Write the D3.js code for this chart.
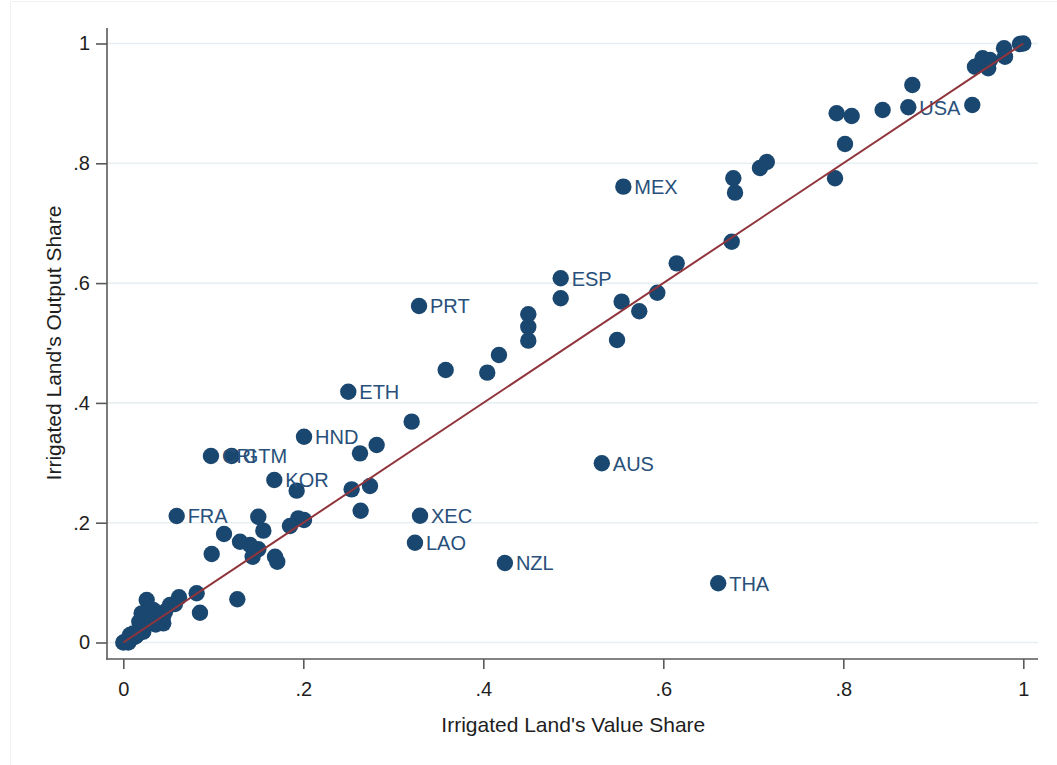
<!DOCTYPE html>
<html>
<head>
<meta charset="utf-8">
<script src="https://cdn.jsdelivr.net/npm/d3@7"></script>
<style>
  html, body { margin: 0; padding: 0; background: #fff; }
  svg { display: block; font-family: "Liberation Sans", Arial, sans-serif; }
</style>
</head>
<body>
<svg id="chart" width="1057" height="765"></svg>
<script>
// Irrigated land: value share (x) vs output share (y), one point per country.
// Points with a code in countryLabels carry a text label.
const valueShare = [
  0.5556, 0.486, 0.3286, 0.25, 0.2008, 0.5317, 0.661, 0.8722, 0.0593, 0.1678,
  0.0974, 0.1204, 0.3297, 0.3241, 0.424,
  0.7926, 0.8093, 0.8019, 0.7908, 0.8437, 0.8767, 0.9433, 0.9463, 0.9548, 0.963,
  0.961, 0.9786, 0.9797, 0.9963, 1.0,
  0.6778, 0.6797, 0.676, 0.6149, 0.5933, 0.5537, 0.5733, 0.486, 0.45, 0.7074,
  0.715, 0.5486, 0.45, 0.45, 0.4174, 0.4044, 0.3582, 0.3204, 0.2815, 0.263,
  0.2741, 0.2537, 0.2637, 0.1926, 0.1944, 0.2008, 0.1852, 0.15, 0.1556, 0.1119,
  0.1297, 0.1408, 0.15, 0.1437, 0.1686, 0.1711, 0.0982, 0.1267, 0.0815, 0.0852,
  0.0619, 0.0574, 0.026, 0.0463, 0.0444, 0.023, 0.0204, 0.0222, 0.013, 0.0,
  0.0056, 0.0204, 0.0178, 0.0074, 0.0444, 0.0519, 0.011, 0.0333, 0.0407, 0.003,
  0.008, 0.015, 0.03, 0.036
];
const outputShare = [
  0.761, 0.608, 0.5618, 0.4187, 0.3436, 0.2992, 0.0988, 0.8935, 0.2112, 0.2713,
  0.3113, 0.3113, 0.2117, 0.1666, 0.1327,
  0.8835, 0.879, 0.8322, 0.775, 0.889, 0.9307, 0.8973, 0.9613, 0.9753, 0.9724,
  0.9586, 0.992, 0.978, 0.9992, 1.0,
  0.775, 0.751, 0.6691, 0.633, 0.584, 0.569, 0.553, 0.5746, 0.548, 0.7921,
  0.8022, 0.505, 0.527, 0.5039, 0.48, 0.4505, 0.455, 0.3687, 0.3297, 0.3158,
  0.2613, 0.2557, 0.22, 0.2535, 0.2073, 0.2045, 0.1945, 0.21, 0.1867, 0.1811,
  0.1683, 0.1628, 0.1556, 0.1432, 0.1432, 0.1349, 0.1477, 0.0721, 0.0821, 0.0497,
  0.0755, 0.0643, 0.071, 0.0514, 0.032, 0.046, 0.032, 0.018, 0.0097, 0.0,
  0.0, 0.0487, 0.0347, 0.0125, 0.0442, 0.0626, 0.015, 0.0543, 0.0376, 0.002,
  0.006, 0.012, 0.04, 0.03
];
const countryLabels = [
  "MEX", "ESP", "PRT", "ETH", "HND", "AUS", "THA", "USA", "FRA", "KOR",
  "CRI", "GTM", "XEC", "LAO", "NZL"
];
const xTickValues = [0, 0.2, 0.4, 0.6, 0.8, 1];
const yTickValues = [0, 0.2, 0.4, 0.6, 0.8, 1];
const tickText = v => v === 0 ? "0" : v === 1 ? "1" : String(v).replace(/^0/, "");
const xTitle = "Irrigated Land's Value Share";
const yTitle = "Irrigated Land's Output Share";

const points = valueShare.map((v, i) => ({
  x: v, y: outputShare[i], label: countryLabels[i] || ""
}));

const svg = d3.select("#chart");
const navy = "#1a476f";

// plot region
const frame = { left: 107, right: 1038, top: 28, bottom: 659 };
const x = d3.scaleLinear().domain([0, 1]).range([123.3, 1023.3]);
const y = d3.scaleLinear().domain([0, 1]).range([642.5, 43.5]);

// faint outer graph border
svg.append("path")
  .attr("d", "M10.5,765 L10.5,1.5 L1057,1.5")
  .attr("fill", "none").attr("stroke", "#f1f1f1").attr("stroke-width", 1);

// horizontal grid lines
svg.append("g").selectAll("line").data(yTickValues).join("line")
  .attr("x1", frame.left).attr("x2", frame.right)
  .attr("y1", d => y(d)).attr("y2", d => y(d))
  .attr("stroke", "#e8eff2").attr("stroke-width", 1.6);

// axes
const axisColor = "#5a5a5a";
const yAxis = svg.append("g").attr("transform", `translate(${frame.left},0)`)
  .call(d3.axisLeft(y).tickValues(yTickValues).tickFormat(tickText)
    .tickSize(11).tickPadding(6));
const xAxis = svg.append("g").attr("transform", `translate(0,${frame.bottom})`)
  .call(d3.axisBottom(x).tickValues(xTickValues).tickFormat(tickText)
    .tickSize(10).tickPadding(13));
[yAxis, xAxis].forEach(g => {
  g.select(".domain").remove();
  g.selectAll(".tick line").attr("stroke", axisColor).attr("stroke-width", 1.6);
  g.selectAll(".tick text").attr("fill", "#1e1e1e")
    .style("font-size", "20px").style("font-family", "'Liberation Sans', Arial, sans-serif");
});
svg.append("line")
  .attr("x1", frame.left).attr("x2", frame.left)
  .attr("y1", frame.top).attr("y2", frame.bottom + 0.8)
  .attr("stroke", axisColor).attr("stroke-width", 1.6);
svg.append("line")
  .attr("x1", frame.left - 0.8).attr("x2", frame.right)
  .attr("y1", frame.bottom).attr("y2", frame.bottom)
  .attr("stroke", axisColor).attr("stroke-width", 1.6);

// axis titles
svg.append("text")
  .attr("x", (x(0) + x(1)) / 2).attr("y", 732)
  .attr("text-anchor", "middle").attr("fill", "#1e1e1e")
  .style("font-size", "21px").text(xTitle);
svg.append("text")
  .attr("transform", `translate(61,${(y(0) + y(1)) / 2}) rotate(-90)`)
  .attr("text-anchor", "middle").attr("fill", "#1e1e1e")
  .style("font-size", "21px").text(yTitle);

// markers
svg.append("g").selectAll("circle").data(points).join("circle")
  .attr("cx", d => x(d.x)).attr("cy", d => y(d.y))
  .attr("r", 8.2).attr("fill", navy);

// country labels
svg.append("g").selectAll("text").data(points.filter(d => d.label)).join("text")
  .attr("x", d => x(d.x) + 11).attr("y", d => y(d.y) + 7.3)
  .attr("fill", "#28507a").style("font-size", "20px")
  .text(d => d.label);

// 45-degree reference line
svg.append("line")
  .attr("x1", x(0)).attr("y1", y(0)).attr("x2", x(1)).attr("y2", y(1))
  .attr("stroke", "#90353b").attr("stroke-width", 2);
</script>
</body>
</html>
